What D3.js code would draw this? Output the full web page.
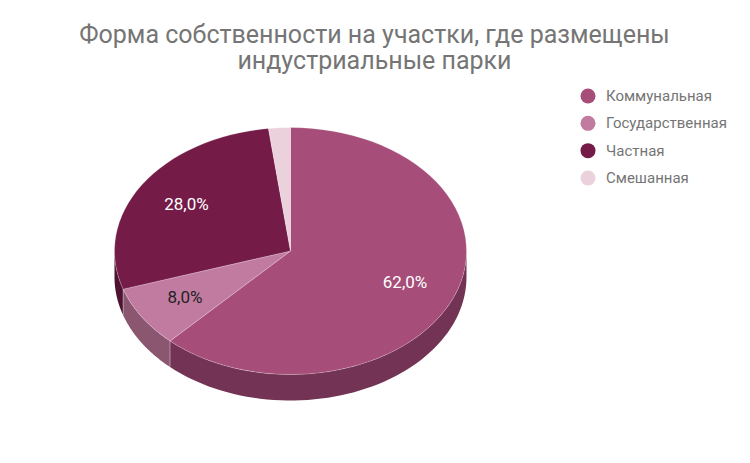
<!DOCTYPE html>
<html>
<head>
<meta charset="utf-8">
<script src="https://cdn.jsdelivr.net/npm/d3@7"></script>
<style>
  html, body { margin: 0; padding: 0; background: #fff; }
  text { font-family: Roboto, sans-serif; }
</style>
</head>
<body>
<svg id="chart" width="750" height="463"></svg>
<script>
const titleLines = ['Форма собственности на участки, где размещены', 'индустриальные парки']
const categories = ['Коммунальная', 'Государственная', 'Частная', 'Смешанная']
const values = [62, 8, 28, 2]
const labels = ['62,0%', '8,0%', '28,0%', '']
const colors = ['#a64d79', '#c27ba0', '#741b47', '#ead1dc']
const sideColors = ['#733355', '#8a5670', '#4f1230', '#a392a0']
const labelColors = ['#fff', '#222', '#fff', '#222']

const width = 750
const height = 463
const cx = 290.5
const cy = 251
const rx = 176
const ry = 123.5
const depth = 26
const labelFactor = 0.7

const svg = d3.select('#chart')

svg
  .selectAll('text.title')
  .data(titleLines)
  .join('text')
  .attr('class', 'title')
  .attr('x', 374.5)
  .attr('y', (d, i) => 43 + i * 26)
  .attr('text-anchor', 'middle')
  .attr('font-size', 25)
  .attr('fill', '#757575')
  .text(d => d)

const pieData = d3.pie().sort(null).value(d => d)(values)

// point on the tilted ellipse, angle clockwise from the top
const px = (a, f = 1) => cx + rx * f * Math.sin(a)
const py = (a, f = 1) => cy - ry * f * Math.cos(a)

const pie = svg.append('g')

// side wall, only the front half of the ellipse is visible
const wallStart = Math.PI / 2
const wallEnd = (Math.PI * 3) / 2
pieData.forEach((d, i) => {
  const from = Math.max(d.startAngle, wallStart)
  const to = Math.min(d.endAngle, wallEnd)
  if (to <= from) return
  const angles = d3.range(0, 61).map(k => from + ((to - from) * k) / 60)
  const top = angles.map(a => [px(a), py(a)])
  const bottom = angles
    .slice()
    .reverse()
    .map(a => [px(a), py(a) + depth])
  pie
    .append('path')
    .attr('d', d3.line()(top.concat(bottom)) + 'Z')
    .attr('fill', sideColors[i])
})

// divider on the wall where two slices meet
pieData.forEach(d => {
  const a = d.endAngle
  if (a <= wallStart || a >= wallEnd) return
  pie
    .append('line')
    .attr('x1', px(a))
    .attr('y1', py(a))
    .attr('x2', px(a))
    .attr('y2', py(a) + depth)
    .attr('stroke', '#fff')
    .attr('stroke-opacity', 0.5)
    .attr('stroke-width', 0.8)
})

// top face, circular arcs squashed into an ellipse
const arc = d3.arc().innerRadius(0).outerRadius(rx)
pie
  .append('g')
  .attr('transform', `translate(${cx},${cy}) scale(1,${ry / rx})`)
  .selectAll('path')
  .data(pieData)
  .join('path')
  .attr('d', arc)
  .attr('fill', (d, i) => colors[i])
  .attr('stroke', '#fff')
  .attr('stroke-opacity', 0.45)
  .attr('stroke-width', 0.6)

svg
  .selectAll('text.label')
  .data(pieData)
  .join('text')
  .attr('class', 'label')
  .attr('x', d => px((d.startAngle + d.endAngle) / 2, labelFactor) - (d.index === 1 ? 1.5 : 0))
  .attr('y', d => py((d.startAngle + d.endAngle) / 2, labelFactor) + 5.5)
  .attr('text-anchor', 'middle')
  .attr('font-size', 17)
  .attr('fill', (d, i) => labelColors[i])
  .text((d, i) => labels[i])

const legendY = d3
  .scalePoint()
  .domain(categories)
  .range([96, 178])

const legend = svg
  .selectAll('g.legend')
  .data(categories)
  .join('g')
  .attr('class', 'legend')
  .attr('transform', d => `translate(0,${legendY(d)})`)

legend
  .append('circle')
  .attr('cx', 588)
  .attr('r', 7.5)
  .attr('fill', (d, i) => colors[i])

legend
  .append('text')
  .attr('x', 606)
  .attr('y', 5)
  .attr('font-size', 15)
  .attr('fill', '#757575')
  .text(d => d)
</script>
</body>
</html>
